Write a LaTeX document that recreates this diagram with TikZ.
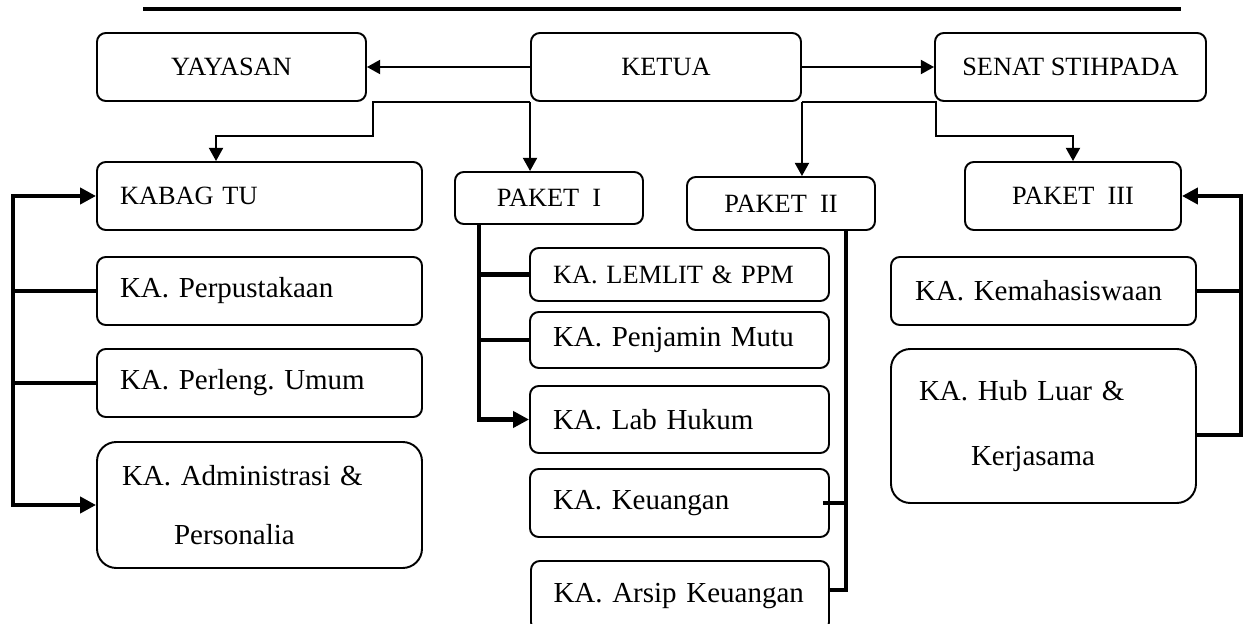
\documentclass[tikz,border=0pt]{standalone}
\usepackage{fontspec}
\setmainfont{Liberation Serif}
\usetikzlibrary{arrows.meta,calc}
\frenchspacing

\begin{document}
\begin{tikzpicture}[x=0.02cm,y=-0.02cm,
    >={Triangle[length=7.5pt,width=8pt]},
    box/.style 2 args={draw,line width=1.1pt,rounded corners=5pt,
        minimum width=#1*0.02cm,minimum height=#2*0.02cm,inner sep=0pt},
    hd/.style={font=\fontsize{15}{18}\selectfont},
    txt/.style={font=\fontsize{16.5}{19.8}\selectfont},
    lft/.style={align=left,text width=#1},
    link/.style={line width=1.1pt,->},
    bus/.style={line width=2.3pt,>={Triangle[length=9pt,width=9pt]}}]
            \clip (0,0) rectangle (1245,624);
            \draw[line width=1.9pt] (143,9) -- (1181,9);
            % top row
            \node[box={269}{68},hd] (yayasan) at (231.5,67) {YAYASAN};
            \node[box={270}{68},hd] (ketua) at (666,67) {KETUA};
            \node[box={271}{68},hd] (senat) at (1070.5,67) {SENAT STIHPADA};
            % left column
            \node[box={325}{68},hd,lft=5.58cm] (kabag) at (259.5,196) {KABAG TU};
            \node[box={325}{68},txt,lft=5.58cm] (perpus) at (259.5,291) {KA. Perpustakaan};
            \node[box={325}{68},txt,lft=5.58cm] (perleng) at (259.5,383) {KA. Perleng. Umum};
            \node[box={325}{126},txt,lft=5.5cm,rounded corners=11pt] (admin) at (259.5,505)
                {KA. Administrasi \&\\[14pt]\hspace*{1.04cm}Personalia};
            % paket
            \node[box={188}{52},hd] (paket1) at (549,198) {PAKET~~I};
            \node[box={188}{53},hd] (paket2) at (781,203.5) {PAKET~~II};
            \node[box={216}{68},hd] (paket3) at (1073,196) {PAKET~~III};
            % middle column
            \node[box={299}{53},lft=5.06cm,font=\fontsize{15}{18}\selectfont] (lemlit) at (679.5,274.5) {KA. LEMLIT \& PPM};
            \node[box={299}{56},txt,lft=5.06cm] (penjamin) at (679.5,340) {KA. Penjamin Mutu};
            \node[box={299}{67},txt,lft=5.06cm] (labhukum) at (679.5,419.5) {KA. Lab Hukum};
            \node[box={299}{68},txt,lft=5.06cm] (keuangan) at (679.5,503) {KA. Keuangan};
            \node[box={298}{70},txt,lft=5.06cm] (arsip) at (680,596) {KA. Arsip Keuangan};
            % right column
            \node[box={305}{68},txt,lft=5.14cm] (kema) at (1043.5,291) {KA. Kemahasiswaan};
            \node[box={305}{154},txt,lft=4.98cm,rounded corners=11pt] (hub) at (1043.5,426)
                {KA. Hub Luar \&\\[17.5pt]\hspace*{1.04cm}Kerjasama};
            % arrows from ketua
            \draw[link] (ketua.west) -- (yayasan.east);
            \draw[link] (ketua.east) -- (senat.west);
            \draw[link] (ketua.south west) -| ++(-157,34) -| ($(kabag.north west)+(120,0)$);
            \draw[link] (ketua.south west) -- (ketua.south west |- paket1.north);
            \draw[link] (ketua.south east) -- (ketua.south east |- paket2.north);
            \draw[link] (ketua.south east) -| ++(134,34) -| (paket3.north);
            % buses
            \draw[bus,<->] (kabag.west) -- ++(-83,0) |- (admin.west);
            \foreach \n in {perpus,perleng}
                {\draw[bus] (\n.west) -- ++(-83,0);}
            \draw[bus,->] ($(paket1.south west)+(25,0)$) |- (labhukum.west);
            \foreach \n in {lemlit,penjamin}
                {\draw[bus] (\n.west) -- ++(-50,0);}
            \draw[bus] ($(paket2.south west)+(160,0)$) |- ($(arsip.east)+(0,-6)$);
            \draw[bus] ($(keuangan.east)+(-7,0)$) -- ++(22,0);
            \draw[bus,->] ($(hub.east)+(0,9)$) -- ++(44,0) |- (paket3.east);
            \draw[bus] (kema.east) -- ++(44,0);
\end{tikzpicture}
\end{document}
